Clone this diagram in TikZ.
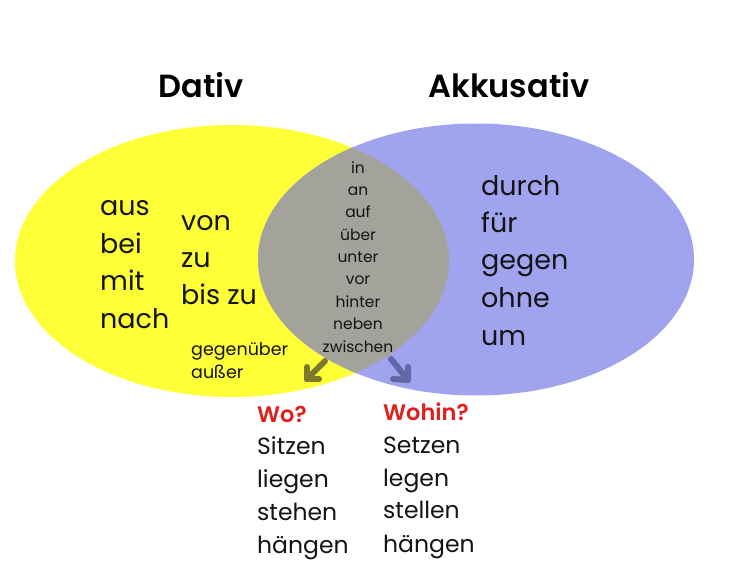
\documentclass[tikz,border=0pt]{standalone}
\usepackage{fontspec}
\setmainfont{Poppins}
\newfontfamily\titlefont{Poppins SemiBold}
\definecolor{vyellow}{HTML}{FFFF38}
\definecolor{vblue}{HTML}{A0A3EE}
\definecolor{vgray}{HTML}{A3A39B}
\definecolor{volive}{HTML}{7B7A2C}
\definecolor{vslate}{HTML}{6367A8}
\definecolor{vred}{HTML}{E0201E}
\definecolor{vtext}{HTML}{141414}
\begin{document}
\begin{tikzpicture}[x=1pt,y=-1pt,
  word/.style={anchor=base west,inner sep=0pt,text=vtext},
  bigword/.style={word,font=\fontsize{27}{27}\selectfont},
  midword/.style={anchor=base,inner sep=0pt,text=vtext,font=\fontsize{15.5}{16}\selectfont},
  smallword/.style={word,font=\fontsize{17.5}{18}\selectfont},
  verbword/.style={word,font=\fontsize{23.5}{24}\selectfont},
  qword/.style={word,text=vred,font=\titlefont\fontsize{22.5}{22}\selectfont},
  title/.style={anchor=base,inner sep=0pt,text=black,font=\titlefont\fontsize{32}{32}\selectfont},
  arrowline/.style={line width=6pt,line cap=round,line join=round}]
\useasboundingbox (0,0) rectangle (736,583);
\fill[white] (0,0) rectangle (736,583);
% circles
\fill[vyellow] (232,261) ellipse [x radius=217,y radius=136];
\fill[vblue] (476,259.5) ellipse [x radius=218,y radius=136];
\begin{scope}
  \clip (232,261) ellipse [x radius=217,y radius=136];
  \fill[vgray] (476,259.5) ellipse [x radius=218,y radius=136];
\end{scope}
% titles
\node[title] (dativ) at (201,98) {Dativ};
\node[title] (akk) at (509,98) {Akkusativ};
% Dativ words
\node[bigword] (aus) at (100,215) {aus};
\node[bigword] (bei) at (100,253) {bei};
\node[bigword] (mit) at (100,290) {mit};
\node[bigword] (nach) at (100,328) {nach};
\node[bigword] (von) at (181,230) {von};
\node[bigword] (zu) at (181,267) {zu};
\node[bigword] (biszu) at (181,304) {bis zu};
\node[smallword] (gegenueber) at (191,355) {gegenüber};
\node[smallword] (ausser) at (191,378) {außer};
% middle words
\node[midword] (in) at (358,173) {in};
\node[midword] (an) at (358,195) {an};
\node[midword] (auf) at (358,217) {auf};
\node[midword] (ueber) at (358,240) {über};
\node[midword] (unter) at (358,262) {unter};
\node[midword] (vor) at (358,284) {vor};
\node[midword] (hinter) at (358,307) {hinter};
\node[midword] (neben) at (358,329) {neben};
\node[midword] (zwischen) at (358,352) {zwischen};
% Akkusativ words
\node[bigword] (durch) at (481,195) {durch};
\node[bigword] (fuer) at (481,232) {für};
\node[bigword] (gegen) at (481,269) {gegen};
\node[bigword] (ohne) at (481,307) {ohne};
\node[bigword] (um) at (481,345) {um};
% arrows
\coordinate (la1) at (325,361);
\coordinate (la2) at (307,379);
\coordinate (ra1) at (391,359);
\coordinate (ra2) at (408,380);
\draw[arrowline,volive] (la1) -- (la2);
\draw[arrowline,volive] ([yshift=12]la2) -- (la2) -- ([xshift=12]la2);
\draw[arrowline,vslate] (ra1) -- (ra2);
\draw[arrowline,vslate] ([yshift=13]ra2) -- (ra2) -- ([xshift=-15,yshift=1]ra2);
% Wo
\node[qword] (wo) at (257,422) {Wo?};
\node[verbword] (sitzen) at (257,454) {Sitzen};
\node[verbword] (liegen) at (257,487) {liegen};
\node[verbword] (stehen) at (257,520) {stehen};
\node[verbword] (haengen1) at (257,553) {hängen};
% Wohin
\node[qword] (wohin) at (383,420) {Wohin?};
\node[verbword] (setzen) at (383,453) {Setzen};
\node[verbword] (legen) at (383,486) {legen};
\node[verbword] (stellen) at (383,518) {stellen};
\node[verbword] (haengen2) at (383,552) {hängen};
\end{tikzpicture}
\end{document}
